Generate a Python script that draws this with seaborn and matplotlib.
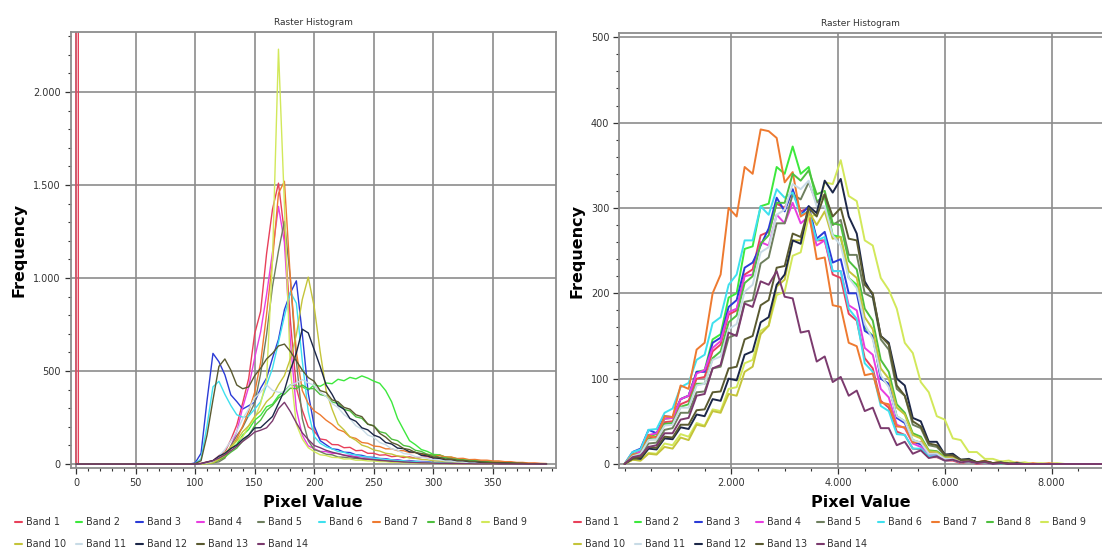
import matplotlib
matplotlib.use("Agg")
import matplotlib.pyplot as plt
import pandas as pd
import seaborn as sns
from matplotlib.ticker import FixedLocator, MultipleLocator, FuncFormatter

# ---------------- data ----------------
BANDS = [f"Band {i}" for i in range(1, 15)]
COLORS = ["#e8405a", "#3de83d", "#2b3bd6", "#e83ee0", "#6e7f5e", "#3ee0ee", "#ee7a30",
          "#4fbf3f", "#d2e85a", "#c4c43a", "#c8dbe6", "#1c2748", "#5a5a30", "#7b3a6e"]

TITLE = "Raster Histogram"
XLABEL = "Pixel Value"
YLABEL = "Frequency"

# left histogram: pixel values 0,1,2 then 95..395 step 5
LEFT_X = [0, 1, 2] + list(range(95, 400, 5))
LEFT_B1 = [0, 60000, 0,
           0, 3, 4, 12, 18, 45, 65, 130, 210, 330,
           460, 700, 820, 1130, 1370, 1510, 1240, 770, 410, 290,
           200, 178, 135, 130, 105, 104, 88, 90, 72, 74,
           58, 58, 48, 50, 40, 43, 35, 39, 31, 36,
           40, 33, 50, 38, 32, 26, 25, 20, 20, 16,
           16, 12, 12, 8, 9, 5, 6, 3, 4, 2, 1]
LEFT_B2 = [0, 0, 0,
           0, 1, 2, 6, 8, 22, 38, 84, 106, 156,
           186, 236, 262, 308, 322, 368, 392, 426, 420, 415,
           398, 426, 418, 436, 432, 456, 448, 466, 458, 474,
           462, 446, 434, 395, 335, 245, 185, 126, 104, 78,
           68, 52, 50, 38, 37, 28, 27, 20, 19, 14,
           13, 10, 10, 7, 7, 4, 5, 3, 2, 2, 1]
LEFT_B3 = [0, 0, 0,
           0, 6, 58, 340, 595, 550, 480, 372, 336, 296,
           314, 332, 408, 462, 570, 670, 830, 920, 985, 700,
           380, 205, 126, 104, 82, 78, 64, 62, 50, 47,
           38, 36, 30, 29, 23, 23, 18, 19, 15, 14,
           13, 9, 10, 7, 7, 5, 5, 4, 3, 3,
           2, 2, 1, 1, 1, 1, 0, 0, 0, 0, 0]
LEFT_B4 = [0, 0, 0,
           0, 0, 2, 6, 9, 22, 38, 95, 175, 305,
           415, 570, 710, 910, 1140, 1385, 1190, 660, 295, 155,
           98, 83, 68, 67, 58, 57, 48, 47, 40, 39,
           33, 31, 27, 26, 21, 21, 17, 16, 12, 12,
           10, 7, 7, 5, 5, 4, 3, 3, 2, 2,
           1, 1, 1, 1, 0, 0, 0, 0, 0, 0, 0]
LEFT_B5 = [0, 0, 0,
           0, 0, 1, 3, 7, 12, 32, 98, 152, 198,
           262, 328, 485, 695, 955, 1145, 1305, 995, 555, 245,
           125, 78, 67, 53, 50, 38, 37, 32, 31, 27,
           26, 22, 22, 17, 17, 13, 13, 9, 10, 7,
           7, 5, 5, 4, 3, 3, 2, 2, 2, 1,
           1, 1, 1, 0, 0, 0, 0, 0, 0, 0, 0]
LEFT_B6 = [0, 0, 0,
           0, 3, 28, 205, 415, 445, 375, 315, 265, 252,
           258, 295, 335, 425, 515, 655, 795, 925, 865, 555,
           282, 148, 112, 93, 82, 68, 63, 53, 49, 41,
           38, 31, 30, 24, 23, 18, 18, 14, 14, 10,
           10, 8, 7, 6, 5, 4, 4, 3, 3, 2,
           2, 1, 1, 1, 1, 0, 0, 0, 0, 0, 0]
LEFT_B7 = [0, 0, 0,
           0, 0, 2, 6, 9, 22, 38, 84, 136, 205,
           285, 385, 545, 805, 1095, 1455, 1520, 995, 605, 395,
           325, 286, 265, 236, 214, 186, 174, 146, 138, 116,
           112, 97, 94, 82, 82, 72, 72, 62, 62, 52,
           53, 46, 46, 38, 38, 30, 31, 24, 25, 21,
           21, 17, 17, 13, 13, 9, 9, 6, 6, 4, 3]
LEFT_B8 = [0, 0, 0,
           0, 0, 1, 4, 7, 22, 38, 64, 86, 124,
           155, 206, 236, 288, 315, 356, 376, 408, 405, 425,
           405, 406, 374, 366, 334, 326, 294, 286, 254, 246,
           214, 206, 174, 166, 134, 126, 100, 94, 74, 68,
           52, 48, 36, 34, 26, 26, 20, 20, 15, 13,
           10, 8, 7, 6, 5, 4, 3, 2, 2, 1, 1]
LEFT_B9 = [0, 0, 0,
           0, 0, 1, 3, 11, 28, 62, 88, 124, 146,
           205, 245, 325, 455, 1100, 2230, 1390, 505, 215, 135,
           88, 67, 50, 46, 36, 35, 27, 28, 21, 21,
           17, 17, 13, 13, 9, 10, 7, 8, 5, 6,
           4, 4, 3, 3, 2, 2, 1, 1, 1, 1,
           1, 0, 0, 0, 0, 0, 0, 0, 0, 0, 0]
LEFT_B10 = [0, 0, 0,
            0, 0, 1, 4, 7, 26, 48, 94, 126, 174,
            206, 256, 286, 336, 366, 426, 476, 566, 695, 885,
            1005, 845, 605, 395, 295, 215, 184, 146, 128, 102,
            92, 76, 70, 58, 54, 43, 42, 33, 31, 25,
            23, 18, 17, 13, 13, 9, 10, 7, 7, 6,
            5, 4, 4, 3, 3, 2, 2, 1, 1, 1, 0]
LEFT_B11 = [0, 0, 0,
            0, 0, 2, 7, 14, 42, 78, 124, 176, 244,
            296, 356, 386, 426, 396, 386, 386, 424, 436, 454,
            436, 424, 386, 364, 326, 304, 266, 244, 206, 188,
            156, 144, 116, 104, 82, 75, 57, 53, 40, 37,
            31, 25, 23, 17, 16, 11, 11, 7, 8, 5,
            5, 4, 3, 3, 2, 2, 1, 1, 1, 0, 0]
LEFT_B12 = [0, 0, 0,
            0, 0, 3, 11, 19, 42, 58, 84, 102, 134,
            156, 194, 196, 226, 256, 326, 396, 506, 596, 725,
            705, 615, 525, 425, 375, 315, 295, 245, 230, 195,
            184, 156, 144, 116, 108, 86, 83, 66, 63, 47,
            44, 33, 31, 24, 24, 18, 18, 13, 13, 9,
            8, 7, 6, 5, 4, 3, 3, 2, 2, 1, 1]
LEFT_B13 = [0, 0, 0,
            0, 3, 18, 155, 345, 525, 565, 505, 425, 405,
            415, 475, 515, 565, 595, 635, 645, 605, 555, 505,
            465, 445, 395, 385, 345, 335, 305, 295, 265, 255,
            215, 205, 165, 145, 116, 104, 84, 78, 62, 57,
            49, 38, 36, 27, 26, 20, 20, 15, 15, 11,
            10, 8, 7, 6, 5, 4, 3, 2, 2, 1, 1]
LEFT_B14 = [0, 0, 0,
            0, 0, 2, 10, 18, 32, 50, 72, 95, 122,
            145, 172, 182, 195, 232, 298, 332, 282, 222, 168,
            132, 100, 88, 74, 64, 56, 48, 40, 36, 30,
            26, 24, 20, 18, 15, 14, 11, 10, 8, 7,
            6, 5, 4, 4, 3, 3, 2, 2, 1, 1,
            1, 1, 0, 0, 0, 0, 0, 0, 0, 0, 0]

# right histogram: pixel values 0..9000 step 150
RIGHT_X = list(range(0, 9001, 150))
RIGHT_B1 = [0, 9, 14, 30, 32, 49, 50, 70, 74, 100,
            102, 132, 140, 175, 180, 222, 228, 268, 272, 305,
            300, 320, 296, 300, 262, 262, 222, 218, 176, 168,
            124, 112, 74, 66, 38, 34, 18, 17, 8, 8,
            4, 4, 1, 3, 0, 1, 1, 0, 0, 0,
            0, 0, 0, 0, 0, 0, 0, 0, 0, 0, 0]
RIGHT_B2 = [0, 11, 15, 32, 35, 53, 54, 76, 80, 108,
            110, 146, 152, 195, 200, 252, 255, 302, 305, 348,
            340, 372, 340, 348, 308, 312, 268, 266, 218, 210,
            160, 150, 102, 92, 56, 50, 28, 25, 13, 11,
            6, 6, 2, 3, 1, 2, 0, 1, 0, 0,
            0, 0, 0, 0, 0, 0, 0, 0, 0, 0, 0]
RIGHT_B3 = [0, 14, 18, 40, 36, 56, 55, 76, 80, 108,
            108, 142, 148, 184, 192, 230, 236, 256, 276, 312,
            296, 322, 292, 302, 264, 272, 236, 240, 200, 200,
            156, 150, 100, 94, 54, 48, 26, 23, 12, 11,
            6, 6, 3, 4, 1, 2, 1, 1, 0, 0,
            0, 0, 0, 0, 0, 0, 0, 0, 0, 0, 0]
RIGHT_B4 = [0, 10, 15, 34, 36, 53, 54, 76, 80, 106,
            110, 136, 144, 178, 182, 220, 222, 260, 256, 292,
            282, 306, 282, 290, 256, 262, 226, 226, 186, 180,
            136, 128, 88, 78, 46, 42, 24, 20, 10, 9,
            5, 5, 2, 3, 1, 1, 1, 0, 0, 0,
            0, 0, 0, 0, 0, 0, 0, 0, 0, 0, 0]
RIGHT_B5 = [0, 7, 10, 24, 25, 40, 42, 60, 60, 84,
            85, 112, 114, 148, 152, 190, 192, 235, 242, 282,
            282, 316, 310, 330, 306, 316, 280, 286, 245, 245,
            200, 195, 146, 134, 88, 80, 46, 42, 22, 20,
            10, 10, 4, 5, 2, 3, 1, 1, 0, 0,
            0, 0, 0, 0, 0, 0, 0, 0, 0, 0, 0]
RIGHT_B6 = [0, 14, 17, 40, 41, 60, 65, 90, 95, 122,
            128, 165, 172, 210, 222, 262, 262, 302, 292, 322,
            312, 318, 292, 296, 262, 266, 226, 226, 182, 170,
            118, 108, 68, 62, 35, 34, 18, 18, 9, 9,
            4, 5, 2, 3, 1, 1, 1, 0, 0, 0,
            0, 0, 0, 0, 0, 0, 0, 0, 0, 0, 0]
RIGHT_B7 = [0, 11, 12, 34, 30, 56, 55, 92, 88, 134,
            142, 200, 222, 300, 290, 348, 340, 392, 390, 382,
            330, 342, 290, 296, 240, 242, 186, 184, 142, 138,
            104, 106, 72, 70, 44, 43, 25, 26, 14, 14,
            8, 8, 4, 5, 2, 4, 1, 3, 0, 2,
            0, 1, 0, 1, 0, 0, 0, 0, 0, 0, 0]
RIGHT_B8 = [0, 9, 12, 29, 29, 47, 48, 67, 70, 94,
            94, 124, 132, 166, 174, 212, 220, 258, 268, 306,
            306, 340, 332, 344, 316, 320, 282, 280, 238, 228,
            182, 168, 122, 108, 70, 60, 36, 32, 16, 15,
            8, 7, 3, 4, 1, 2, 1, 1, 0, 0,
            0, 0, 0, 0, 0, 0, 0, 0, 0, 0, 0]
RIGHT_B9 = [0, 5, 4, 13, 12, 24, 22, 35, 32, 48,
            45, 64, 62, 88, 90, 118, 122, 156, 162, 198,
            202, 244, 248, 290, 292, 330, 328, 356, 314, 308,
            262, 256, 218, 204, 182, 142, 130, 96, 84, 56,
            52, 30, 28, 14, 14, 6, 6, 3, 4, 1,
            2, 0, 1, 0, 1, 0, 0, 0, 0, 0, 0]
RIGHT_B10 = [0, 5, 4, 12, 11, 20, 18, 31, 28, 46,
             44, 62, 60, 82, 80, 108, 114, 152, 162, 208,
             216, 262, 262, 296, 280, 296, 264, 266, 226, 218,
             172, 158, 112, 100, 66, 58, 34, 30, 15, 14,
             7, 7, 3, 4, 1, 2, 1, 1, 0, 0,
             0, 0, 0, 0, 0, 0, 0, 0, 0, 0, 0]
RIGHT_B11 = [0, 9, 12, 28, 29, 45, 46, 66, 66, 92,
             94, 122, 126, 158, 164, 202, 210, 248, 254, 292,
             298, 328, 322, 332, 302, 302, 268, 256, 218, 206,
             164, 146, 104, 90, 56, 50, 28, 25, 12, 12,
             6, 6, 2, 3, 1, 2, 0, 1, 0, 0,
             0, 0, 0, 0, 0, 0, 0, 0, 0, 0, 0]
RIGHT_B12 = [0, 7, 6, 18, 17, 30, 29, 43, 41, 58,
             56, 76, 74, 100, 98, 128, 132, 166, 172, 210,
             222, 262, 258, 302, 294, 332, 318, 334, 290, 270,
             214, 198, 150, 142, 100, 92, 54, 50, 26, 26,
             11, 12, 5, 6, 2, 3, 1, 2, 0, 1,
             0, 0, 0, 0, 0, 0, 0, 0, 0, 0, 0]
RIGHT_B13 = [0, 6, 8, 20, 19, 32, 31, 46, 46, 63,
             64, 84, 85, 112, 114, 146, 150, 186, 192, 230,
             232, 270, 266, 300, 290, 316, 290, 300, 264, 262,
             210, 200, 150, 140, 92, 80, 50, 44, 24, 22,
             11, 10, 5, 5, 2, 3, 1, 1, 1, 0,
             0, 0, 0, 0, 0, 0, 0, 0, 0, 0, 0]
RIGHT_B14 = [0, 8, 10, 20, 22, 36, 36, 52, 54, 80,
             82, 112, 116, 154, 150, 188, 184, 214, 210, 226,
             196, 194, 154, 156, 120, 126, 96, 102, 80, 86,
             62, 66, 42, 42, 22, 26, 12, 16, 7, 9,
             4, 5, 2, 3, 1, 2, 0, 1, 0, 0,
             0, 0, 0, 0, 0, 0, 0, 0, 0, 0, 0]

LEFT_SERIES = [LEFT_B1, LEFT_B2, LEFT_B3, LEFT_B4, LEFT_B5, LEFT_B6, LEFT_B7,
               LEFT_B8, LEFT_B9, LEFT_B10, LEFT_B11, LEFT_B12, LEFT_B13, LEFT_B14]
RIGHT_SERIES = [RIGHT_B1, RIGHT_B2, RIGHT_B3, RIGHT_B4, RIGHT_B5, RIGHT_B6, RIGHT_B7,
                RIGHT_B8, RIGHT_B9, RIGHT_B10, RIGHT_B11, RIGHT_B12, RIGHT_B13, RIGHT_B14]


def long_frame(xs, series):
    rows = []
    for band, ys in zip(BANDS, series):
        n = min(len(xs), len(ys))
        for x, y in zip(xs[:n], ys[:n]):
            rows.append((band, x, y))
    return pd.DataFrame(rows, columns=["band", "value", "freq"])


df_left = long_frame(LEFT_X, LEFT_SERIES)
df_right = long_frame(RIGHT_X, RIGHT_SERIES)

# ---------------- style ----------------
sns.set_style("white")
plt.rcParams["font.family"] = ["DejaVu Sans"]
TXT = "#333333"
GRID = "#8c8c8c"


def dot_thousands(v, pos):
    return f"{int(round(v)):,}".replace(",", ".")


fig = plt.figure(figsize=(11.02, 5.53), dpi=100)
W, H = 1102.0, 553.0
ax1 = fig.add_axes([70.5 / W, 1 - 468 / H, (556 - 70.5) / W, (468 - 31.5) / H])
ax2 = fig.add_axes([619 / W, 1 - 468 / H, 1 - 619 / W, (468 - 33) / H])

sns.lineplot(data=df_left, x="value", y="freq", hue="band", hue_order=BANDS,
             palette=COLORS, estimator=None, sort=False, linewidth=1.0, ax=ax1)
sns.lineplot(data=df_right, x="value", y="freq", hue="band", hue_order=BANDS,
             palette=COLORS, estimator=None, sort=False, linewidth=1.4, ax=ax2)

ax1.set_xlim(-4.6, 403)
ax1.set_ylim(-21, 2325)
ax1.xaxis.set_major_locator(FixedLocator(list(range(0, 351, 50))))
ax1.xaxis.set_minor_locator(MultipleLocator(10))
ax1.yaxis.set_major_locator(FixedLocator([0, 500, 1000, 1500, 2000]))
ax1.yaxis.set_minor_locator(MultipleLocator(100))

ax2.set_xlim(-104, 8945)
ax2.set_ylim(-4.7, 505)
ax2.xaxis.set_major_locator(FixedLocator([2000, 4000, 6000, 8000]))
ax2.xaxis.set_minor_locator(MultipleLocator(500))
ax2.yaxis.set_major_locator(FixedLocator([0, 100, 200, 300, 400, 500]))
ax2.yaxis.set_minor_locator(MultipleLocator(20))
ax2.spines["right"].set_visible(False)

order = [0, 9, 1, 10, 2, 11, 3, 12, 4, 13, 5, 6, 7, 8]
for ax, ylx, xly, lx in ((ax1, -0.09, -0.062, 15), (ax2, -0.072, -0.062, 574)):
    ax.set_axisbelow(True)
    ax.grid(True, which="major", color=GRID, linewidth=1.2)
    ax.grid(False, which="minor")
    for s in ax.spines.values():
        s.set_color(GRID)
        s.set_linewidth(1.3)
    ax.xaxis.set_major_formatter(FuncFormatter(dot_thousands))
    ax.yaxis.set_major_formatter(FuncFormatter(dot_thousands))
    ax.tick_params(which="both", direction="out", color=TXT, labelcolor=TXT,
                   labelsize=7, bottom=True, left=True)
    ax.tick_params(which="major", length=4, width=0.9, pad=3)
    ax.tick_params(which="minor", length=2.5, width=0.8)
    ax.set_title(TITLE, fontsize=6.5, color=TXT, pad=5)
    ax.set_xlabel(XLABEL, fontsize=11.5, fontweight="bold", color="black")
    ax.set_ylabel(YLABEL, fontsize=11.5, fontweight="bold", color="black")
    ax.xaxis.set_label_coords(0.5, xly)
    ax.yaxis.set_label_coords(ylx, 0.5)
    handles, labels = ax.get_legend_handles_labels()
    if ax.get_legend() is not None:
        ax.get_legend().remove()
    hmap = dict(zip(labels, handles))
    hs = [hmap[BANDS[i]] for i in order]
    ls = [BANDS[i] for i in order]
    leg = ax.legend(hs, ls, loc="upper left", bbox_to_anchor=(lx / W, 1 - 517 / H),
                    bbox_transform=fig.transFigure, ncol=9, frameon=False,
                    fontsize=6.9, handlelength=0.7, handletextpad=0.4,
                    columnspacing=1.05, labelspacing=1.25, borderpad=0,
                    borderaxespad=0)
    for t in leg.get_texts():
        t.set_color(TXT)
    for l in leg.get_lines():
        l.set_linewidth(1.5)

fig.savefig("out.png", dpi=100)
